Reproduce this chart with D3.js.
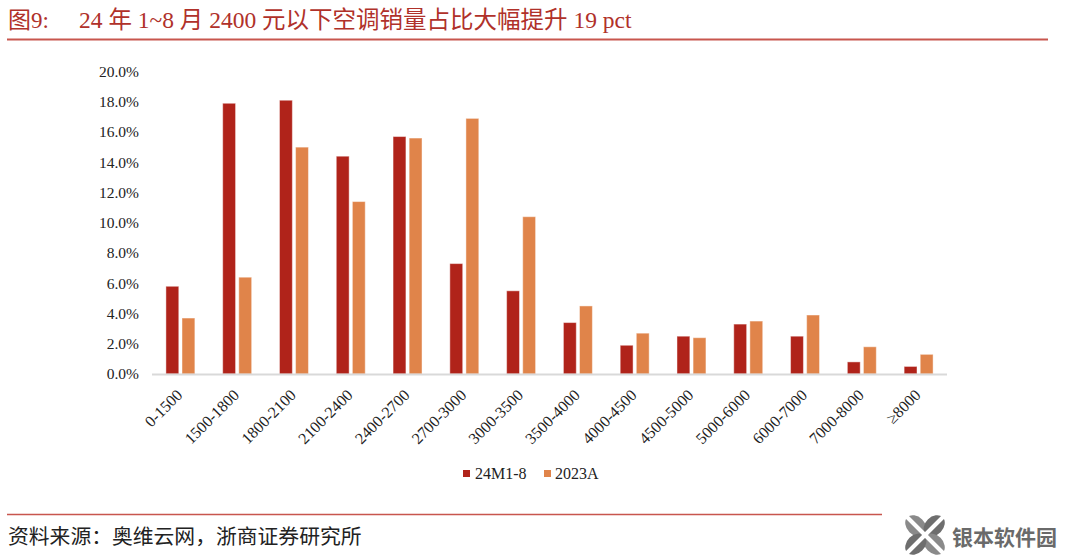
<!DOCTYPE html>
<html><head><meta charset="utf-8">
<script src="https://cdn.jsdelivr.net/npm/d3@7"></script>
<style>body{margin:0;background:#fff}svg{display:block}</style>
</head><body><svg id="c" width="1080" height="560"></svg>
<script>
const categories = ["0-1500","1500-1800","1800-2100","2100-2400","2400-2700","2700-3000","3000-3500","3500-4000","4000-4500","4500-5000","5000-6000","6000-7000","7000-8000","≥8000"];
const seriesNames = ["24M1-8","2023A"];
const values24M = [5.8,17.9,18.1,14.4,15.7,7.3,5.5,3.4,1.9,2.5,3.3,2.5,0.8,0.5];
const values2023 = [3.7,6.4,15.0,11.4,15.6,16.9,10.4,4.5,2.7,2.4,3.5,3.9,1.8,1.3];
const yTicks = [0,2,4,6,8,10,12,14,16,18,20];
const titleLead = "图9:";
const titleMain = "24 年 1~8 月 2400 元以下空调销量占比大幅提升 19 pct";
const sourceText = "资料来源：奥维云网，浙商证券研究所";
const watermarkText = "银本软件园";
const colors = ["#B0231A","#E0844A"];

const svg = d3.select("#c");
const serif = "'Liberation Serif','Times New Roman',serif";
const cjk = "'Liberation Serif','Noto Sans CJK SC',serif";

// title
svg.append("text").attr("x",8).attr("y",28).attr("fill","#B0312A")
  .style("font-family",cjk).style("font-size","23px").text(titleLead);
svg.append("text").attr("x",79).attr("y",28).attr("fill","#B0312A")
  .style("font-family",cjk).style("font-size","23.5px").text(titleMain);
svg.append("line").attr("x1",7).attr("x2",1048).attr("y1",39.5).attr("y2",39.5)
  .attr("stroke","#C8564E").attr("stroke-width",1.8);

// scales
const x0 = d3.scaleBand().domain(categories).range([152,947]).paddingInner(0.49).paddingOuter(0.245);
const x1 = d3.scaleBand().domain(seriesNames).range([0,x0.bandwidth()]).paddingInner(0.2);
const y = d3.scaleLinear().domain([0,20]).range([374,71.5]);

// y axis labels
const yAxis = svg.append("g").attr("transform","translate(139,0)")
  .call(d3.axisLeft(y).tickValues(yTicks).tickSize(0).tickPadding(0).tickFormat(d=>d.toFixed(1)+"%"));
yAxis.select(".domain").remove();
yAxis.selectAll("text").style("font-family",serif).style("font-size","15.5px").attr("fill","#222");

// bars
const rows = categories.map((c,i)=>({cat:c, vals:[values24M[i],values2023[i]]}));
const g = svg.append("g");
rows.forEach(r=>{
  r.vals.forEach((v,j)=>{
    g.append("rect")
      .attr("x",x0(r.cat)+x1(seriesNames[j]))
      .attr("width",x1.bandwidth())
      .attr("y",y(v))
      .attr("height",y(0)-y(v))
      .attr("fill",colors[j])
      .attr("stroke","rgba(255,255,255,0.45)").attr("stroke-width",1);
  });
});

// x axis line
svg.append("line").attr("x1",152).attr("x2",947).attr("y1",y(0)+0.5).attr("y2",y(0)+0.5)
  .attr("stroke","#D9D9D9").attr("stroke-width",2);

// x labels
const xAxis = svg.append("g").attr("transform",`translate(0,${y(0)})`)
  .call(d3.axisBottom(x0).tickSize(0).tickPadding(0));
xAxis.select(".domain").remove();
xAxis.selectAll("text")
  .attr("y",0).attr("dy",null)
  .attr("transform","translate(3,22) rotate(-45)")
  .attr("text-anchor","end")
  .style("font-family",serif).style("font-size","16px").attr("fill","#222");

// legend
const leg = svg.append("g");
const legPos = [{sx:463, tx:475},{sx:544, tx:555}];
seriesNames.forEach((s,i)=>{
  leg.append("rect").attr("x",legPos[i].sx).attr("y",470).attr("width",7).attr("height",7).attr("fill",colors[i]);
  leg.append("text").attr("x",legPos[i].tx).attr("y",479).style("font-family",serif).style("font-size","16px")
    .attr("fill","#222").text(s);
});

// footer
svg.append("line").attr("x1",7).attr("x2",882).attr("y1",514.5).attr("y2",514.5)
  .attr("stroke","#C8564E").attr("stroke-width",1.5);
svg.append("text").attr("x",8).attr("y",544).style("font-family","'Noto Sans CJK SC',sans-serif")
  .style("font-size","20.8px").attr("fill","#222").text(sourceText);

// watermark
const wm = svg.append("g").attr("transform","translate(925,535)");
[[-45,"#8a8a8a"],[45,"#6e6e6e"],[135,"#8a8a8a"],[225,"#6e6e6e"]].forEach(([a,c])=>{
  wm.append("ellipse").attr("cx",0).attr("cy",-13).attr("rx",9).attr("ry",12)
    .attr("transform",`rotate(${a})`).attr("fill",c);
});
wm.append("line").attr("x1",-20).attr("y1",-20).attr("x2",20).attr("y2",20).attr("stroke","#fff").attr("stroke-width",4);
wm.append("line").attr("x1",20).attr("y1",-20).attr("x2",-20).attr("y2",20).attr("stroke","#fff").attr("stroke-width",4);
svg.append("text").attr("x",952).attr("y",545).style("font-family","'Noto Sans CJK SC',sans-serif")
  .style("font-size","21px").style("font-weight","bold").attr("fill","#6a6a6a").text(watermarkText);
</script></body></html>
